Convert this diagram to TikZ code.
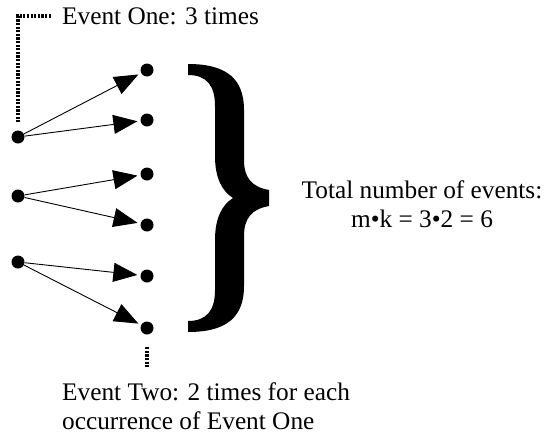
\documentclass[tikz,border=0pt]{standalone}
\usepackage{fontspec}
\setmainfont{Liberation Serif}
\usetikzlibrary{arrows.meta,positioning}

\begin{document}
\begin{tikzpicture}[x=1pt,y=-1pt,
  dot/.style={circle,fill=black,inner sep=0pt,minimum size=13pt},
  arr/.style={-{Triangle[length=24pt,width=19pt]},line width=0.9pt,shorten >=3pt},
  dotline/.style={line width=3.2pt,dash pattern=on 2.2pt off 1.4pt},
  lbl/.style={inner sep=0pt,font=\fontsize{25.3}{29.5}\selectfont}]
\useasboundingbox (0,0) rectangle (556,434);
% event one and event two outcomes
\foreach \n/\y in {1/137,2/196,3/262} {\node[dot] (a\n) at (18,\y) {};}
\foreach \n/\y in {1/70,2/120,3/174,4/225,5/276,6/328} {\node[dot] (b\n) at (147,\y) {};}
\foreach \a/\b in {1/1,1/2,2/3,2/4,3/5,3/6} {\draw[arr] (a\a) -- (b\b);}
% labels
\node[lbl,anchor=west] (one) at (62,16) {Event One: 3 times};
\draw[dotline,shorten <=8pt,shorten >=10pt] (a1.north) |- (one.west);
\node[lbl,anchor=north west,align=left] (two) at (62,382) {Event Two: 2 times for each\\occurrence of Event One};
\draw[dotline,shorten <=12.5pt,shorten >=14pt] (b6.south) -- (b6 |- two.north);
% big brace
\fill (188,64) .. controls (228,64) and (244,80) .. (244,110) -- (244,160)
  .. controls (244,178) and (252,187) .. (269,190) -- (269,206)
  .. controls (252,209) and (244,218) .. (244,236) -- (244,286)
  .. controls (244,316) and (228,332) .. (188,332) -- (188,321)
  .. controls (207,321) and (215,310) .. (215,290) -- (215,240)
  .. controls (215,218) and (222,205) .. (233,198)
  .. controls (222,191) and (215,178) .. (215,156) -- (215,106)
  .. controls (215,86) and (207,75) .. (188,75) -- cycle;
\node[lbl,align=center] (total) at (422,204) {Total number of events:\\m•k = 3•2 = 6};
\end{tikzpicture}
\end{document}
